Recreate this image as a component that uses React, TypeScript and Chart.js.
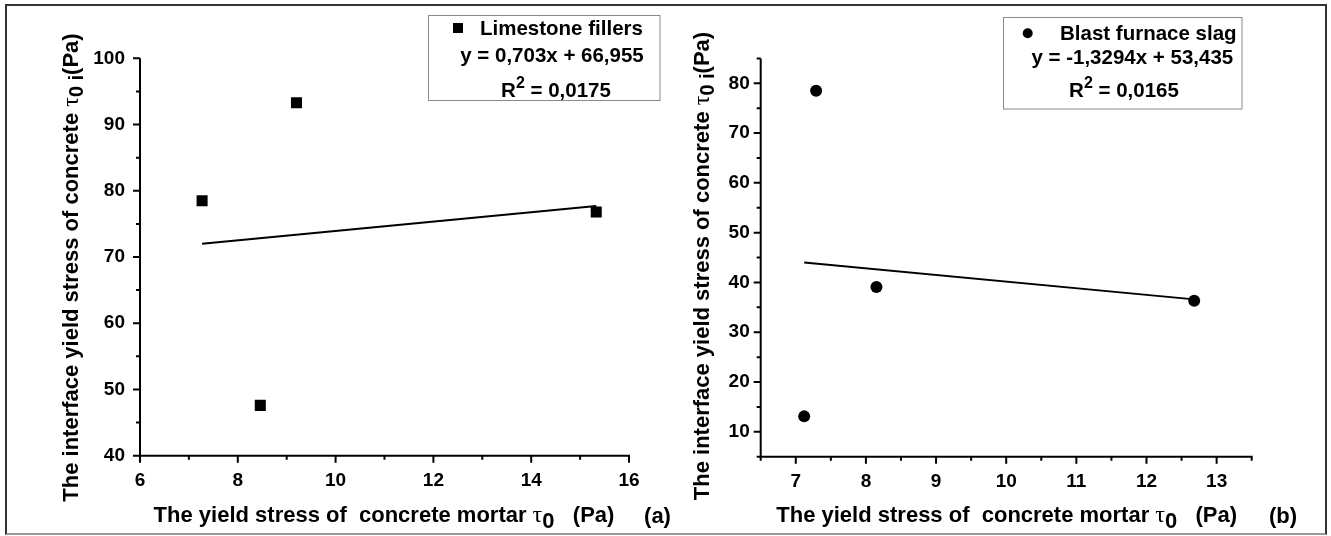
import React, { useEffect, useRef } from "react";
import { Chart, registerables } from "chart.js";

Chart.register(...registerables);

// ---------- data ----------
const LIME_X = [7.27, 9.2, 8.46, 15.33];
const LIME_Y = [78.5, 93.3, 47.6, 76.8];
const LIME_FIT_X = [7.27, 15.33];
const LIME_FIT_Y = [72.0, 77.7];

const SLAG_X = [7.12, 7.29, 8.15, 12.68];
const SLAG_Y = [13.1, 78.5, 39.1, 36.3];
const SLAG_FIT_X = [7.12, 12.68];
const SLAG_FIT_Y = [44.0, 36.6];

const A_X_TICKS = [6, 8, 10, 12, 14, 16];
const A_X_MINOR = [7, 9, 11, 13, 15];
const A_Y_TICKS = [40, 50, 60, 70, 80, 90, 100];
const A_Y_MINOR = [45, 55, 65, 75, 85, 95];

const B_X_TICKS = [7, 8, 9, 10, 11, 12, 13];
const B_X_MINOR = [6.5, 7.5, 8.5, 9.5, 10.5, 11.5, 12.5, 13.5];
const B_Y_TICKS = [10, 20, 30, 40, 50, 60, 70, 80];
const B_Y_MINOR = [5, 15, 25, 35, 45, 55, 65, 75, 85];

const A_LEGEND = ["Limestone fillers", "y = 0,703x + 66,955", "0,0175"];
const B_LEGEND = ["Blast furnace slag", "y = -1,3294x + 53,435", "0,0165"];

const SANS = "'Liberation Sans', Arial, sans-serif";
const SERIF = "'Liberation Serif', 'Times New Roman', serif";
const B = (s: number) => `bold ${s}px ${SANS}`;

type Seg = { t: string; f: string; dy?: number };

function drawRich(ctx: CanvasRenderingContext2D, segs: Seg[], x: number, y: number, align: "left" | "center", angle = 0) {
  ctx.save();
  ctx.translate(x, y);
  ctx.rotate(angle);
  ctx.textBaseline = "alphabetic";
  ctx.textAlign = "left";
  ctx.fillStyle = "#000";
  let w = 0;
  for (const s of segs) {
    ctx.font = s.f;
    w += ctx.measureText(s.t).width;
  }
  let cx = align === "center" ? -w / 2 : 0;
  for (const s of segs) {
    ctx.font = s.f;
    ctx.fillText(s.t, cx, s.dy || 0);
    cx += ctx.measureText(s.t).width;
  }
  ctx.restore();
}

const X_TITLE: Seg[] = [
  { t: "The yield stress of  concrete mortar ", f: B(22) },
  { t: "τ", f: `24px ${SERIF}` },
  { t: "0", f: B(22), dy: 6 },
  { t: "   (Pa)", f: B(22) },
];
const Y_TITLE: Seg[] = [
  { t: "The interface yield stress of concrete ", f: B(22) },
  { t: "τ", f: `24px ${SERIF}` },
  { t: "0 i", f: B(20), dy: 5 },
  { t: "(Pa)", f: B(22) },
];

type Panel = {
  xs: number[]; ys: number[]; fx: number[]; fy: number[];
  style: "rect" | "circle"; radius: number;
  xmin: number; xmax: number; ymin: number; ymax: number;
  xTicks: number[]; xMinor: number[]; yTicks: number[]; yMinor: number[];
  width: number; height: number;
  areaLeft: number; areaRight: number; areaTop: number; areaBottom: number;
  yLabelPad: number;
  legend: string[];
  legendBox: [number, number, number, number];
  legendMarker: [number, number, number];
  legendLines: [number, number, number, number, number, number];
  xTitle: [number, number];
  yTitle: [number, number];
  tag: string;
  tagPos: [number, number];
};

const PANEL_A: Panel = {
  xs: LIME_X, ys: LIME_Y, fx: LIME_FIT_X, fy: LIME_FIT_Y,
  style: "rect", radius: 7.8,
  xmin: 6, xmax: 16, ymin: 40, ymax: 100,
  xTicks: A_X_TICKS, xMinor: A_X_MINOR, yTicks: A_Y_TICKS, yMinor: A_Y_MINOR,
  width: 680, height: 536,
  areaLeft: 140, areaRight: 629, areaTop: 58.3, areaBottom: 455.7,
  yLabelPad: 15,
  legend: A_LEGEND,
  legendBox: [428.5, 15.5, 231.5, 85],
  legendMarker: [458, 28, 7],
  legendLines: [480, 35, 552, 61.5, 556, 96.5],
  xTitle: [384, 522],
  yTitle: [77.5, 267.5],
  tag: "(a)",
  tagPos: [657.5, 522.5],
};

const OFF = 680;
const PANEL_B: Panel = {
  xs: SLAG_X, ys: SLAG_Y, fx: SLAG_FIT_X, fy: SLAG_FIT_Y,
  style: "circle", radius: 6,
  xmin: 6.5, xmax: 13.5, ymin: 5, ymax: 85,
  xTicks: B_X_TICKS, xMinor: B_X_MINOR, yTicks: B_Y_TICKS, yMinor: B_Y_MINOR,
  width: 651, height: 536,
  areaLeft: 760.7 - OFF, areaRight: 1251.7 - OFF, areaTop: 58.4, areaBottom: 456.7,
  yLabelPad: 11,
  legend: B_LEGEND,
  legendBox: [1003.5 - OFF, 17.5, 238.5, 91.5],
  legendMarker: [1027.7 - OFF, 33.3, 5],
  legendLines: [1060 - OFF, 39.5, 1132.3 - OFF, 63.5, 1124 - OFF, 97],
  xTitle: [1006.7 - OFF, 522],
  yTitle: [709 - OFF, 266],
  tag: "(b)",
  tagPos: [1283 - OFF, 522.5],
};

function makeChart(canvas: HTMLCanvasElement, p: Panel) {
  const decor = {
    id: "decor",
    afterDraw(chart: any) {
      const ctx: CanvasRenderingContext2D = chart.ctx;
      const xs = chart.scales.x;
      const ys = chart.scales.y;
      const { left, right, top, bottom } = chart.chartArea;
      ctx.save();
      ctx.strokeStyle = "#000";
      ctx.lineWidth = 2;
      ctx.lineCap = "butt";
      ctx.beginPath();
      ctx.moveTo(left, top);
      ctx.lineTo(left, bottom + 1);
      ctx.moveTo(left - 1, bottom);
      ctx.lineTo(right + 1, bottom);
      for (const v of p.xTicks) {
        const px = xs.getPixelForValue(v);
        ctx.moveTo(px, bottom);
        ctx.lineTo(px, bottom + 7);
      }
      for (const v of p.xMinor) {
        const px = xs.getPixelForValue(v);
        ctx.moveTo(px, bottom);
        ctx.lineTo(px, bottom + 4);
      }
      for (const v of p.yTicks) {
        const py = ys.getPixelForValue(v);
        ctx.moveTo(left, py);
        ctx.lineTo(left - 7, py);
      }
      for (const v of p.yMinor) {
        const py = ys.getPixelForValue(v);
        ctx.moveTo(left, py);
        ctx.lineTo(left - 4, py);
      }
      ctx.stroke();

      const [bx, by, bw, bh] = p.legendBox;
      ctx.lineWidth = 1;
      ctx.strokeStyle = "#8a8a8a";
      ctx.strokeRect(bx, by, bw, bh);
      ctx.fillStyle = "#000";
      const [mx, my, ms] = p.legendMarker;
      if (p.style === "rect") {
        ctx.fillRect(mx - ms / 2 - 1.5, my - ms / 2 - 1.5, ms + 3, ms + 3);
      } else {
        ctx.beginPath();
        ctx.arc(mx, my, ms, 0, Math.PI * 2);
        ctx.fill();
      }
      const L = p.legendLines;
      drawRich(ctx, [{ t: p.legend[0], f: B(20.5) }], L[0], L[1], "left");
      drawRich(ctx, [{ t: p.legend[1], f: B(20.5) }], L[2], L[3], "center");
      drawRich(ctx, [
        { t: "R", f: B(20.5) },
        { t: "2", f: B(16), dy: -9 },
        { t: " = " + p.legend[2], f: B(20.5) },
      ], L[4], L[5], "center");

      drawRich(ctx, X_TITLE, p.xTitle[0], p.xTitle[1], "center");
      drawRich(ctx, Y_TITLE, p.yTitle[0], p.yTitle[1], "center", -Math.PI / 2);
      drawRich(ctx, [{ t: p.tag, f: B(22) }], p.tagPos[0], p.tagPos[1], "center");
      ctx.restore();
    },
  };

  const tickFont = { family: SANS, weight: "bold" as const, size: 19 };

  return new Chart(canvas, {
    type: "scatter",
    data: {
      datasets: [
        {
          data: p.xs.map((x, i) => ({ x, y: p.ys[i] })),
          pointStyle: p.style,
          pointRadius: p.radius,
          pointHoverRadius: p.radius,
          backgroundColor: "#000",
          borderColor: "#000",
          borderWidth: 0,
          showLine: false,
        },
        {
          data: p.fx.map((x, i) => ({ x, y: p.fy[i] })),
          showLine: true,
          borderColor: "#000",
          borderWidth: 2,
          pointRadius: 0,
          fill: false,
        },
      ],
    },
    options: {
      responsive: false,
      animation: false,
      devicePixelRatio: 1,
      events: [],
      plugins: { legend: { display: false }, tooltip: { enabled: false } },
      layout: { padding: { left: 0, top: p.areaTop, right: p.width - p.areaRight, bottom: 0 } },
      scales: {
        x: {
          type: "linear",
          min: p.xmin,
          max: p.xmax,
          afterBuildTicks: (s: any) => { s.ticks = p.xTicks.map((v) => ({ value: v })); },
          afterFit: (s: any) => { s.height = p.height - p.areaBottom; },
          grid: { display: false, drawTicks: false },
          border: { display: false },
          ticks: { font: tickFont, color: "#000", padding: 14, maxRotation: 0, autoSkip: false, callback: (v: any) => String(v) },
        },
        y: {
          type: "linear",
          min: p.ymin,
          max: p.ymax,
          afterBuildTicks: (s: any) => { s.ticks = p.yTicks.map((v) => ({ value: v })); },
          afterFit: (s: any) => { s.width = p.areaLeft; },
          grid: { display: false, drawTicks: false },
          border: { display: false },
          ticks: { font: tickFont, color: "#000", padding: p.yLabelPad, autoSkip: false, callback: (v: any) => String(v) },
        },
      },
    } as any,
    plugins: [decor],
  });
}

export default function App() {
  const refA = useRef<HTMLCanvasElement>(null);
  const refB = useRef<HTMLCanvasElement>(null);
  useEffect(() => {
    const a = makeChart(refA.current!, PANEL_A);
    const b = makeChart(refB.current!, PANEL_B);
    return () => {
      a.destroy();
      b.destroy();
    };
  }, []);
  return (
    <div style={{ position: "absolute", left: 0, top: 0, width: 1331, height: 536, background: "#fff", overflow: "hidden" }}>
      <canvas ref={refA} width={680} height={536} style={{ position: "absolute", left: 0, top: 0, width: 680, height: 536 }} />
      <canvas ref={refB} width={651} height={536} style={{ position: "absolute", left: 680, top: 0, width: 651, height: 536 }} />
      <div style={{ position: "absolute", left: 5, top: 4, width: 1322, height: 531, border: "2px solid #333", borderBottomColor: "#999", boxSizing: "border-box", pointerEvents: "none" }} />
    </div>
  );
}
